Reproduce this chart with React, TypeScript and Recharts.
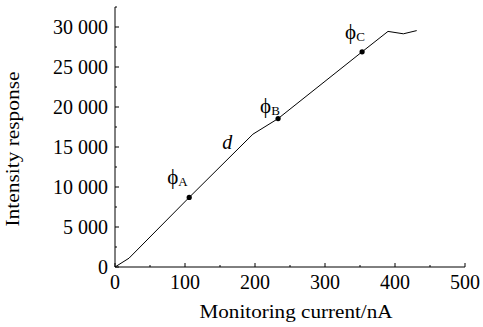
import React from 'react';
import { ComposedChart, Line, Scatter, XAxis, YAxis, LabelList } from 'recharts';

// Monitoring current (nA) and intensity response of curve d
const current = [0, 20, 106, 197, 233, 353, 390, 412, 431];
const intensity = [0, 1100, 8700, 16600, 18550, 26900, 29450, 29150, 29550];
const markers = ['', '', 'A', '', 'B', 'C', '', '', ''];

// Curve annotation
const curveLabelX = [156];
const curveLabelY = [15300];
const curveLabelText = ['d'];

// Axes
const xTicks = [0, 50, 100, 150, 200, 250, 300, 350, 400, 450, 500];
const xTickLabels = ['0', '', '100', '', '200', '', '300', '', '400', '', '500'];
const yTicks = [0, 2500, 5000, 7500, 10000, 12500, 15000, 17500, 20000, 22500, 25000, 27500, 30000, 32500];
const yTickLabels = ['0', '', '5\u00A0000', '', '10\u00A0000', '', '15\u00A0000', '', '20\u00A0000', '', '25\u00A0000', '', '30\u00A0000', ''];

const xTitle = 'Monitoring current/nA';
const yTitle = 'Intensity response';

const data = current.map((c, i) => ({ x: c, y: intensity[i], mark: markers[i] }));
const annotations = curveLabelX.map((x, i) => ({ x, y: curveLabelY[i], text: curveLabelText[i] }));

const FONT = '"Liberation Serif", "Times New Roman", serif';

const markOffsets: Record<string, [number, number]> = {
  A: [-22, -13],
  B: [-18, -6],
  C: [-17, -13],
};

const XTick = (props: any) => {
  const { x, y, payload } = props;
  const idx = xTicks.indexOf(payload.value);
  const label = xTickLabels[idx] || '';
  const major = label !== '';
  return (
    <g>
      <line x1={x} x2={x} y1={y} y2={y - (major ? 4 : 2)} stroke="#000" strokeWidth={1} />
      {major && (
        <text x={x} y={y + 22} textAnchor="middle" fontFamily={FONT} fontSize={20} fill="#000">
          {label}
        </text>
      )}
    </g>
  );
};

const YTick = (props: any) => {
  const { x, y, payload } = props;
  const idx = yTicks.indexOf(payload.value);
  const label = yTickLabels[idx] || '';
  const major = label !== '';
  return (
    <g>
      <line x1={x} x2={x + (major ? 4 : 2)} y1={y} y2={y} stroke="#000" strokeWidth={1} />
      {major && (
        <text x={x - 7} y={y + 7} textAnchor="end" fontFamily={FONT} fontSize={20} fill="#000">
          {label}
        </text>
      )}
    </g>
  );
};

const renderDot = (props: any) => {
  const { cx, cy, payload, index } = props;
  if (!payload || !payload.mark) return <g key={`d${index}`} />;
  return <circle key={`d${index}`} cx={cx} cy={cy} r={2.6} fill="#000" stroke="none" />;
};

const renderMark = (props: any) => {
  const { x, y, value, index } = props;
  if (!value) return null;
  const [dx, dy] = markOffsets[value] || [-18, -10];
  return (
    <text key={`m${index}`} x={x + dx} y={y + dy} fontFamily={FONT} fontSize={21} fill="#000">
      {'\u03D5'}
      <tspan fontSize={13} dy={2}>{value}</tspan>
    </text>
  );
};

const renderAnnotation = (props: any) => {
  const { cx, cy, payload } = props;
  return (
    <text x={cx - 2} y={cy + 4} fontFamily={FONT} fontSize={20} fontStyle="italic" fill="#000">
      {payload.text}
    </text>
  );
};

export default function App() {
  return (
    <div style={{ position: 'absolute', left: 0, top: 0, background: '#fff' }}>
      <ComposedChart width={483} height={327} data={data} margin={{ top: 7, right: 18, bottom: 0, left: 0 }}>
        <XAxis
          dataKey="x"
          type="number"
          domain={[0, 500]}
          ticks={xTicks}
          interval={0}
          tickSize={0}
          tickMargin={0}
          tick={XTick}
          height={60}
          axisLine={{ stroke: '#000', strokeWidth: 1 }}
          tickLine={false}
          allowDataOverflow
          label={{
            content: () => (
              <text x={296} y={318} textAnchor="middle" fontFamily={FONT} fontSize={19} fill="#000" textLength={193} lengthAdjust="spacingAndGlyphs">
                {xTitle}
              </text>
            ),
          }}
        />
        <YAxis
          dataKey="y"
          type="number"
          domain={[0, 32500]}
          ticks={yTicks}
          interval={0}
          tickSize={0}
          tickMargin={0}
          tick={YTick}
          width={115}
          axisLine={{ stroke: '#000', strokeWidth: 1 }}
          tickLine={false}
          allowDataOverflow
          label={{
            content: () => (
              <text x={19} y={149} textAnchor="middle" transform="rotate(-90 19 149)" fontFamily={FONT} fontSize={19} fill="#000" textLength={155} lengthAdjust="spacingAndGlyphs">
                {yTitle}
              </text>
            ),
          }}
        />
        <Line
          dataKey="y"
          type="linear"
          stroke="#000"
          strokeWidth={1}
          dot={renderDot}
          activeDot={false}
          isAnimationActive={false}
        >
          <LabelList dataKey="mark" content={renderMark} />
        </Line>
        <Scatter data={annotations} dataKey="y" shape={renderAnnotation} isAnimationActive={false} />
      </ComposedChart>
    </div>
  );
}
